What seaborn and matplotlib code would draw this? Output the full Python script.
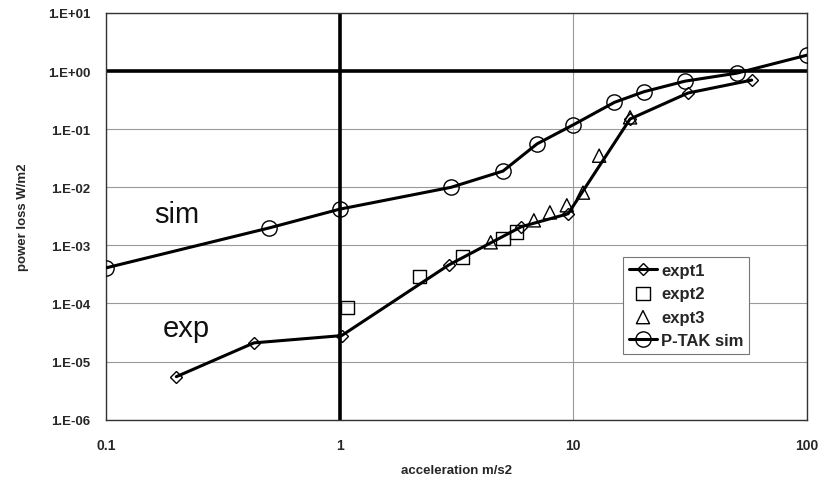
import matplotlib
matplotlib.use("Agg")
import matplotlib.pyplot as plt
import seaborn as sns
import pandas as pd

# data (log-log)
expt1_x = [0.2, 0.43, 1.02, 2.93, 6.0, 9.5, 17.5, 31, 58]
expt1_y = [5.5e-6, 2.1e-5, 2.8e-5, 4.6e-4, 2.1e-3, 3.5e-3, 0.15, 0.42, 0.70]

expt2_x = [1.08, 2.2, 3.36, 5.0, 5.7]
expt2_y = [8.4e-5, 2.9e-4, 6.3e-4, 1.3e-3, 1.7e-3]

expt3_x = [4.43, 6.78, 7.94, 9.38, 11.0, 12.9, 17.5]
expt3_y = [1.13e-3, 2.7e-3, 3.7e-3, 4.9e-3, 8.1e-3, 0.035, 0.16]

sim_x = [0.1, 0.5, 1, 3, 5, 7, 10, 15, 20, 30, 50, 100]
sim_y = [4.1e-4, 2.0e-3, 4.2e-3, 1.0e-2, 1.9e-2, 0.056, 0.119, 0.29, 0.44, 0.67, 0.92, 1.88]

x_ticks = [0.1, 1, 10, 100]
x_ticklabels = ["0.1", "1", "10", "100"]
y_ticks = [1e-6, 1e-5, 1e-4, 1e-3, 1e-2, 1e-1, 1e0, 1e1]
y_ticklabels = ["1.E-06", "1.E-05", "1.E-04", "1.E-03", "1.E-02", "1.E-01", "1.E+00", "1.E+01"]

sns.set_style("white")
plt.rcParams["font.family"] = ["Liberation Sans", "DejaVu Sans"]

fig = plt.figure(figsize=(8.19, 4.81), dpi=100)
ax = fig.add_axes([0.1294, 0.1254, 0.8559, 0.8455])
ax.set_xscale("log")
ax.set_yscale("log")

# grid and the heavy axis-crossing lines
for t in y_ticks:
    ax.axhline(t, color="#9a9a9a", lw=0.8, zorder=0)
for t in x_ticks:
    ax.axvline(t, color="#9a9a9a", lw=0.8, zorder=0)
ax.axhline(1, color="black", lw=2.6, zorder=1)
ax.axvline(1, color="black", lw=2.6, zorder=1)

df1 = pd.DataFrame({"x": expt1_x, "y": expt1_y})
df2 = pd.DataFrame({"x": expt2_x, "y": expt2_y})
df3 = pd.DataFrame({"x": expt3_x, "y": expt3_y})
dfs = pd.DataFrame({"x": sim_x, "y": sim_y})

sns.lineplot(data=df1, x="x", y="y", ax=ax, color="black", lw=2.2,
             marker="D", markersize=6, markerfacecolor="none",
             markeredgecolor="black", markeredgewidth=1.0, label="expt1", zorder=3)
sns.scatterplot(data=df2, x="x", y="y", ax=ax, marker="s", s=90,
                facecolor="none", edgecolor="black", linewidth=1.0,
                label="expt2", zorder=4)
sns.scatterplot(data=df3, x="x", y="y", ax=ax, marker="^", s=90,
                facecolor="none", edgecolor="black", linewidth=1.0,
                label="expt3", zorder=4)
sns.lineplot(data=dfs, x="x", y="y", ax=ax, color="black", lw=2.2,
             marker="o", markersize=11, markerfacecolor="none",
             markeredgecolor="black", markeredgewidth=1.0, label="P-TAK sim", zorder=3)

ax.set_xlim(0.1, 100)
ax.set_ylim(1e-6, 10)
ax.set_xticks(x_ticks)
ax.set_xticklabels(x_ticklabels, fontsize=10, fontweight="bold")
ax.set_yticks(y_ticks)
ax.set_yticklabels(y_ticklabels, fontsize=9.5, fontweight="bold")
ax.minorticks_off()
ax.tick_params(axis="x", length=0, pad=13)
ax.tick_params(axis="y", length=0, pad=11)

ax.set_xlabel("acceleration m/s2", fontsize=9.5, fontweight="bold", labelpad=9)
ax.set_ylabel("power loss W/m2", fontsize=9.5, fontweight="bold", labelpad=14)

for s in ax.spines.values():
    s.set_color("#333333")
    s.set_linewidth(1.0)

ax.text(0.161, 2.5e-3, "sim", fontsize=21, color="#111111", ha="left", va="baseline")
ax.text(0.175, 2.8e-5, "exp", fontsize=21, color="#111111", ha="left", va="baseline")

leg = ax.legend(loc="upper left", bbox_to_anchor=(0.7375, 0.40), borderaxespad=0,
                fancybox=False, frameon=True, edgecolor="#777777", framealpha=1,
                prop={"weight": "bold", "size": 12}, handlelength=1.7,
                handletextpad=0.25, labelspacing=0.5, borderpad=0.35)
leg.get_frame().set_linewidth(0.8)

fig.savefig("out.png", dpi=100, facecolor="white")
